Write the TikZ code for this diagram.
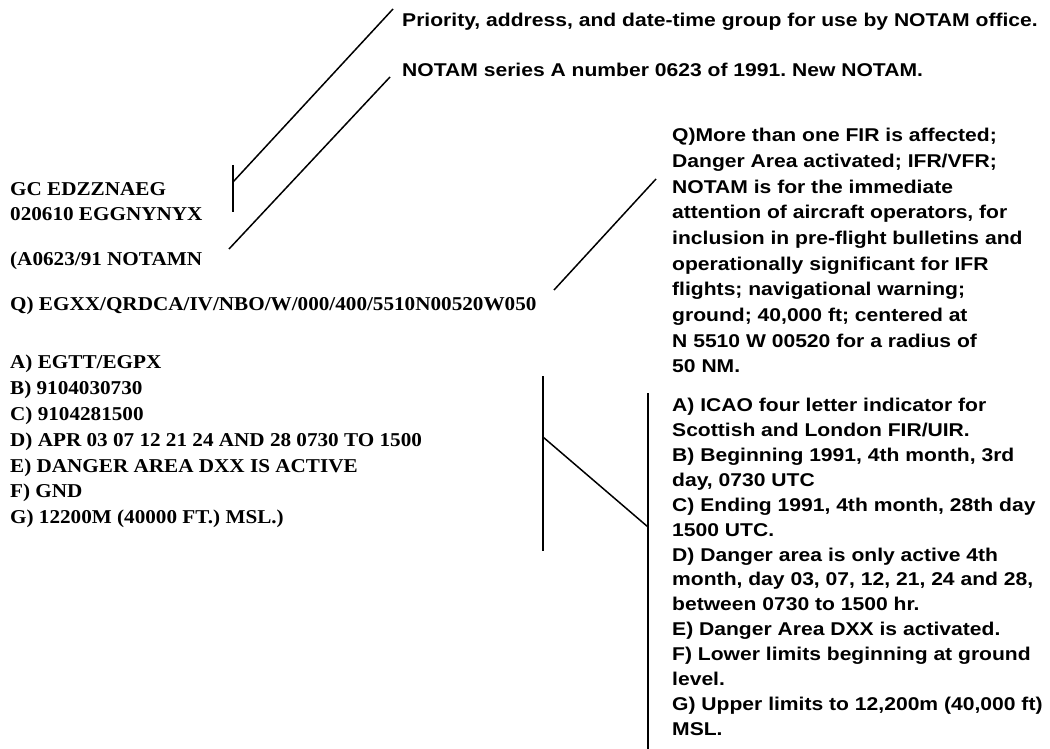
\documentclass[tikz,border=0pt]{standalone}
\usepackage{fontspec}
\setmainfont{Liberation Serif}[FakeStretch=1.08]
\newfontfamily\sansf{Liberation Sans}[FakeStretch=1.14]
\frenchspacing
\begin{document}
\begin{tikzpicture}[x=1pt,y=-1pt,
  lefttext/.style={anchor=north west, inner sep=0pt, align=left, font={\frenchspacing\bfseries\fontsize{19.6}{25.8}\selectfont}},
  righttext/.style={anchor=north west, inner sep=0pt, align=left, font={\frenchspacing\sansf\bfseries\fontsize{18.5}{25.7}\selectfont}},
  rightlow/.style={righttext, font={\frenchspacing\sansf\bfseries\fontsize{18.5}{24.9}\selectfont}},
  leader/.style={line width=1.5pt, black}]
\useasboundingbox[fill=white] (0,0) rectangle (1050,749);

% left column
\node[lefttext] (hdr) at (10,182) {GC EDZZNAEG\\020610 EGGNYNYX};
\node[lefttext] (ser) at (10,252) {(A0623/91 NOTAMN};
\node[lefttext] (qline) at (10,297) {Q) EGXX/QRDCA/IV/NBO/W/000/400/5510N00520W050};
\node[lefttext] (items) at (10,355) {A) EGTT/EGPX\\B) 9104030730\\C) 9104281500\\D) APR 03 07 12 21 24 AND 28 0730 TO 1500\\E) DANGER AREA DXX IS ACTIVE\\F) GND\\G) 12200M (40000 FT.) MSL.)};

% right column
\node[righttext] (prio) at (402,13) {Priority, address, and date-time group for use by NOTAM office.};
\node[righttext] (nser) at (402,63) {NOTAM series A number 0623 of 1991. New NOTAM.};
\node[righttext] (qexp) at (672,128) {Q)More than one FIR is affected;\\Danger Area activated; IFR/VFR;\\NOTAM is for the immediate\\attention of aircraft operators, for\\inclusion in pre-flight bulletins and\\operationally significant for IFR\\flights; navigational warning;\\ground; 40,000 ft; centered at\\N 5510 W 00520 for a radius of\\50 NM.};
\node[rightlow] (iexp) at (672,398) {A) ICAO four letter indicator for\\Scottish and London FIR/UIR.\\B) Beginning 1991, 4th month, 3rd\\day, 0730 UTC\\C) Ending 1991, 4th month, 28th day\\1500 UTC.\\D) Danger area is only active 4th\\month, day 03, 07, 12, 21, 24 and 28,\\between 0730 to 1500 hr.\\E) Danger Area DXX is activated.\\F) Lower limits beginning at ground\\level.\\G) Upper limits to 12,200m (40,000 ft)\\MSL.};

% leader coordinates
\coordinate (t1top) at (233,165);
\coordinate (t1bot) at (233,212);
\coordinate (t1mid) at (233,182);
\coordinate (t1end) at (393,9);
\coordinate (t2a) at (229,249);
\coordinate (t2b) at (390,77);
\coordinate (q1) at (554,290);
\coordinate (q2) at (656,179);
\coordinate (bl1) at (543,376);
\coordinate (bl2) at (543,551);
\coordinate (blm) at (543,437);
\coordinate (br1) at (648,393);
\coordinate (br2) at (648,749);
\coordinate (brm) at (648,527);

\draw[leader] (t1top) -- (t1bot);
\draw[leader] (t1mid) -- (t1end);
\draw[leader] (t2a) -- (t2b);
\draw[leader] (q1) -- (q2);
\draw[leader] (bl1) -- (bl2);
\draw[leader] (br1) -- (br2);
\draw[leader] (blm) -- (brm);
\end{tikzpicture}
\end{document}
